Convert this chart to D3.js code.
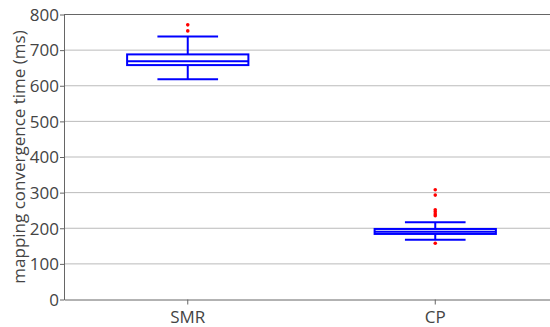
<!DOCTYPE html>
<html>
<head>
<meta charset="utf-8">
<script src="https://cdn.jsdelivr.net/npm/d3@7"></script>
<style>
  body { margin: 0; background: #fff; }
  text { font-family: "Open Sans", sans-serif; }
</style>
</head>
<body>
<div id="chart"></div>
<script>
// categories and box statistics (ms)
const categories = ['SMR', 'CP'];
const q1 = [658, 184];
const medians = [669, 190];
const q3 = [688, 198];
const whiskerLow = [618, 168];
const whiskerHigh = [738, 217];
const outliers = [
    [771, 754],
    [308, 293, 252, 246, 240, 235, 158]
];
const yTicks = [0, 100, 200, 300, 400, 500, 600, 700, 800];

const W = 550, H = 327;
const margin = { top: 14.5, right: -9, bottom: 27.5, left: 64 };
const width = W - margin.left - margin.right;
const height = H - margin.top - margin.bottom;

const svg = d3.select('#chart')
    .append('svg')
    .attr('width', W)
    .attr('height', H);

const g = svg.append('g')
    .attr('transform', `translate(${margin.left},${margin.top})`);

const x = d3.scaleBand()
    .domain(categories)
    .range([0, width])
    .padding(0);

const y = d3.scaleLinear()
    .domain([0, 800])
    .range([height, 0]);

// grid lines
g.append('g')
    .selectAll('line')
    .data(yTicks.slice(1, -1))
    .enter()
    .append('line')
    .attr('x1', 0)
    .attr('x2', width)
    .attr('y1', d => y(d))
    .attr('y2', d => y(d))
    .attr('stroke', '#bbb')
    .attr('stroke-width', 1);

// top frame line
g.append('line')
    .attr('x1', 0).attr('x2', width)
    .attr('y1', y(800)).attr('y2', y(800))
    .attr('stroke', '#666');

const boxData = categories.map((c, i) => ({
    cat: c, q1: q1[i], med: medians[i], q3: q3[i],
    lo: whiskerLow[i], hi: whiskerHigh[i], out: outliers[i]
}));

const boxW = x.bandwidth() * 0.49;
const capW = boxW / 2;

const boxes = g.selectAll('.box')
    .data(boxData)
    .enter()
    .append('g')
    .attr('class', 'box')
    .attr('transform', d => `translate(${x(d.cat) + x.bandwidth() / 2},0)`);

// whisker stems
boxes.append('line')
    .attr('x1', 0).attr('x2', 0)
    .attr('y1', d => y(d.hi)).attr('y2', d => y(d.q3))
    .attr('stroke', '#0000ff').attr('stroke-width', 2);
boxes.append('line')
    .attr('x1', 0).attr('x2', 0)
    .attr('y1', d => y(d.q1)).attr('y2', d => y(d.lo))
    .attr('stroke', '#0000ff').attr('stroke-width', 2);

// caps
boxes.selectAll('.cap')
    .data(d => [d.lo, d.hi])
    .enter()
    .append('line')
    .attr('class', 'cap')
    .attr('x1', -capW / 2).attr('x2', capW / 2)
    .attr('y1', v => y(v)).attr('y2', v => y(v))
    .attr('stroke', '#0000ff').attr('stroke-width', 2);

// box
boxes.append('rect')
    .attr('x', -boxW / 2)
    .attr('width', boxW)
    .attr('y', d => y(d.q3))
    .attr('height', d => y(d.q1) - y(d.q3))
    .attr('fill', '#fff')
    .attr('stroke', '#0000ff')
    .attr('stroke-width', 2);

// median
boxes.append('line')
    .attr('x1', -boxW / 2).attr('x2', boxW / 2)
    .attr('y1', d => y(d.med)).attr('y2', d => y(d.med))
    .attr('stroke', '#0000ff').attr('stroke-width', 2);

// outliers
boxes.selectAll('.outlier')
    .data(d => d.out)
    .enter()
    .append('circle')
    .attr('class', 'outlier')
    .attr('cx', 0)
    .attr('cy', v => y(v))
    .attr('r', 1.8)
    .attr('fill', '#ff0000');

// axes
const yAxis = g.append('g')
    .call(d3.axisLeft(y).tickValues(yTicks).tickSize(4).tickSizeOuter(0));
const xAxis = g.append('g')
    .attr('transform', `translate(0,${height})`)
    .call(d3.axisBottom(x).tickSize(5).tickSizeOuter(0));

[yAxis, xAxis].forEach(a => {
    a.select('.domain').attr('stroke', '#666');
    a.selectAll('.tick line').attr('stroke', '#666');
    a.selectAll('.tick text')
        .attr('fill', '#444')
        .style('font-size', '17px')
        .style('font-family', '"Open Sans", sans-serif');
});
yAxis.selectAll('.tick text').attr('x', -5).attr('dy', '0.34em');
xAxis.selectAll('.tick text').attr('y', 11);

// y axis title
svg.append('text')
    .attr('transform', `translate(25,${margin.top + height / 2}) rotate(-90)`)
    .attr('text-anchor', 'middle')
    .attr('fill', '#444')
    .style('font-size', '17px')
    .text('mapping convergence time (ms)');
</script>
</body>
</html>
